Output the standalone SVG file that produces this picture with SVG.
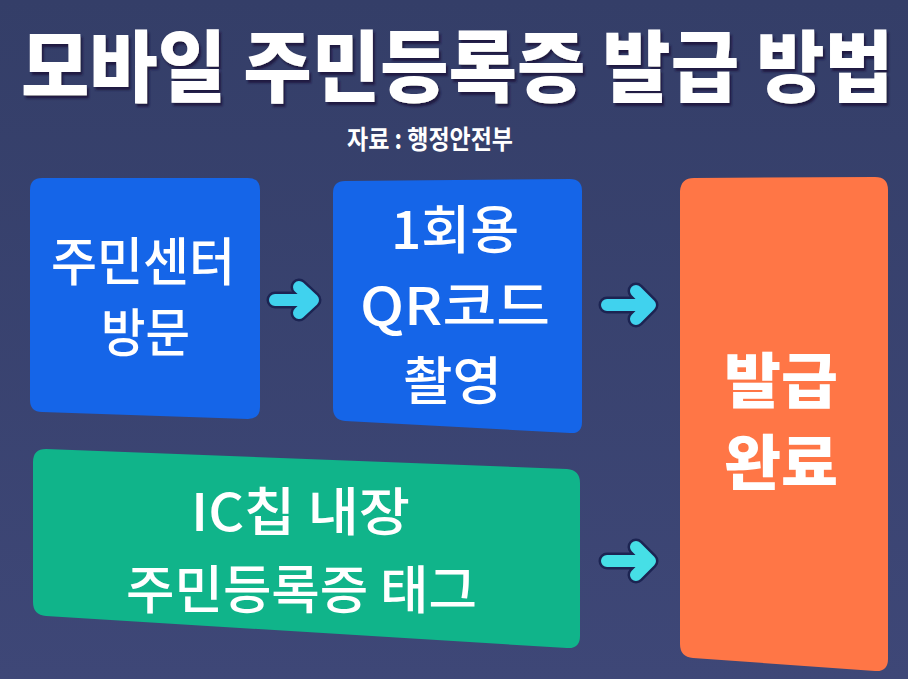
<svg xmlns="http://www.w3.org/2000/svg" width="908" height="679" viewBox="0 0 908 679">
<defs>
<linearGradient id="bg" x1="0" y1="0" x2="0" y2="1">
<stop offset="0" stop-color="#343e68"/>
<stop offset="1" stop-color="#3e4777"/>
</linearGradient>
<filter id="sh" x="-5%" y="-10%" width="110%" height="130%">
<feDropShadow dx="2" dy="3" stdDeviation="1.2" flood-color="#1b1440" flood-opacity="0.95"/>
</filter>
<style>
text{font-family:"Noto Sans CJK KR","Noto Sans",sans-serif;fill:#ffffff;text-anchor:middle}
.title{font-size:78px;font-weight:900}
.sub{font-size:26px;font-weight:700}
.lbl{font-size:52px;font-weight:500}
.big{font-size:60px;font-weight:900}
.blue{fill:#1565e8}
.out{fill:none;stroke:#1c2452;stroke-width:17;stroke-linecap:round;stroke-linejoin:round}
.arr{fill:none;stroke:#40d2ee;stroke-width:12;stroke-linecap:round;stroke-linejoin:round}
</style>
</defs>
<rect width="908" height="679" fill="url(#bg)"/>
<g id="title" filter="url(#sh)">
<text class="title" x="0" y="0" transform="translate(457 96) scale(0.9 1)" textLength="969" lengthAdjust="spacingAndGlyphs">모바일 주민등록증 발급 방법</text>
</g>
<text class="sub" x="430" y="149" textLength="166" lengthAdjust="spacingAndGlyphs">자료 : 행정안전부</text>
<g id="n1">
<path class="blue" d="M42 178 H248 Q260 178 260 190 V407 Q260 419 248 419 L42 412 Q30 412 30 400 V190 Q30 178 42 178 Z"/>
<text class="lbl" x="143" y="281" textLength="184" lengthAdjust="spacingAndGlyphs">주민센터</text>
<text class="lbl" x="145.5" y="352" textLength="89" lengthAdjust="spacingAndGlyphs">방문</text>
</g>
<g id="n2">
<path class="blue" d="M345 181 L570 179 Q582 179 582 191 V422 Q582 434 570 433 L345 421 Q333 420 333 408 V193 Q333 181 345 181 Z"/>
<text class="lbl" x="455" y="249" textLength="128" lengthAdjust="spacingAndGlyphs">1회용</text>
<text class="lbl" x="455" y="325" textLength="190" lengthAdjust="spacingAndGlyphs">QR코드</text>
<text class="lbl" x="452.5" y="400" textLength="99" lengthAdjust="spacingAndGlyphs">촬영</text>
</g>
<g id="n3">
<path fill="#ff7646" d="M694 178 L875 177 Q888 177 888 190 V659 Q888 672 875 671 L693 658 Q680 657 680 644 V191 Q681 178 694 178 Z"/>
<text class="big" x="781" y="403" textLength="114" lengthAdjust="spacingAndGlyphs">발급</text>
<text class="big" x="781" y="485" textLength="114" lengthAdjust="spacingAndGlyphs">완료</text>
</g>
<g id="n4">
<path fill="#10b48a" d="M46 449 L567 469 Q580 470 580 483 V636 Q580 649 567 648 L46 616 Q33 615 33 602 V462 Q33 449 46 449 Z"/>
<text class="lbl" x="300.5" y="531" textLength="219" lengthAdjust="spacingAndGlyphs">IC칩 내장</text>
<text class="lbl" x="301.5" y="609" textLength="351" lengthAdjust="spacingAndGlyphs">주민등록증 태그</text>
</g>
<g id="connectors">
<path class="out" d="M275 300 H311 M299 287 L313 300 L299 313"/>
<path class="arr" d="M275 300 H311 M299 287 L313 300 L299 313"/>
<path class="out" d="M607 305 H648 M636 291 L650 305 L636 319"/>
<path class="arr" d="M607 305 H648 M636 291 L650 305 L636 319"/>
<path class="out" d="M607 561 H648 M636 547 L650 561 L636 575"/>
<path class="arr" d="M607 561 H648 M636 547 L650 561 L636 575" style="stroke:#46dfe6"/>
</g>
</svg>
